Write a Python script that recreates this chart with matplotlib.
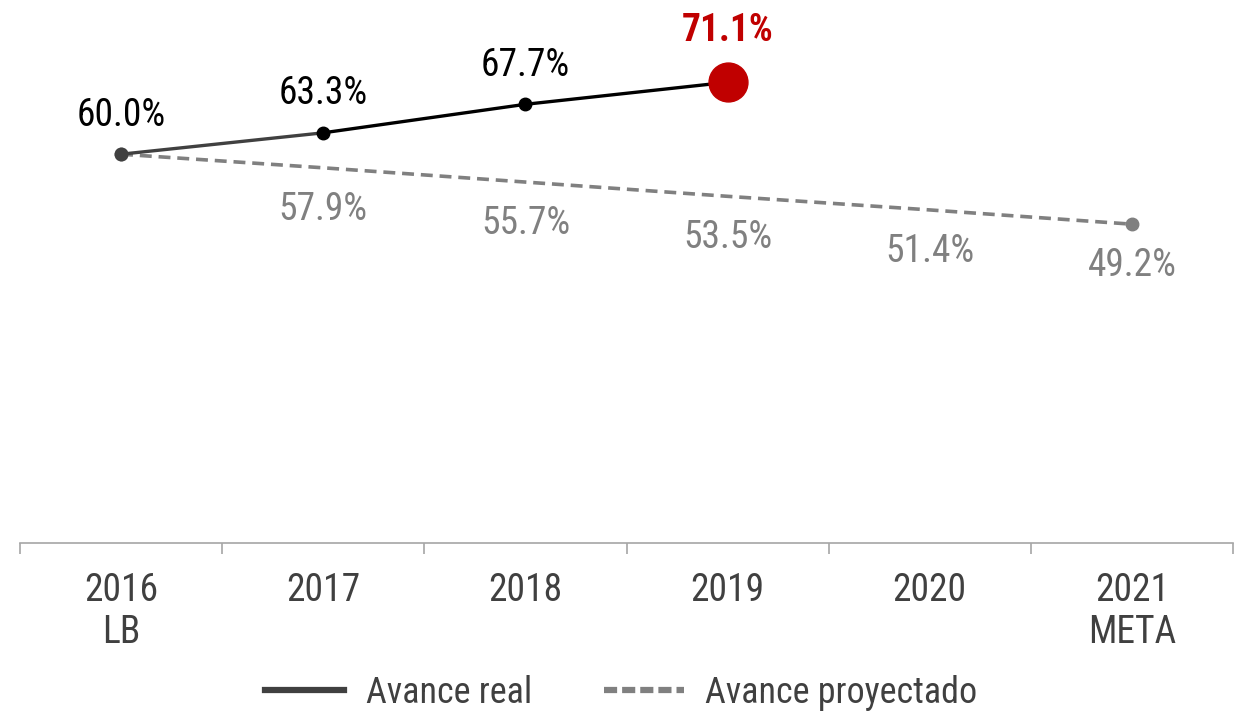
import matplotlib
matplotlib.use('Agg')
import matplotlib.pyplot as plt
from matplotlib.lines import Line2D

plt.rcParams['font.family'] = ['Roboto Condensed', 'DejaVu Sans']

years = ['2016\nLB', '2017', '2018', '2019', '2020', '2021\nMETA']
real = [60.0, 63.3, 67.7, 71.1]
proyectado = [60.0, 57.9, 55.7, 53.5, 51.4, 49.2]

x = list(range(len(years)))
xr = x[:len(real)]

fig = plt.figure(figsize=(12.42, 7.21), dpi=100)
ax = fig.add_axes([20/1242, 178/721, 1213/1242, 0.719])

# proyectado (dashed), markers only at the ends
ax.plot(x, proyectado, color='#808080', lw=2.6, dashes=(3.3, 1.9), zorder=2)
ax.plot([x[0], x[-1]], [proyectado[0], proyectado[-1]], 'o', color='#808080',
        ms=9, zorder=3, clip_on=False)

# avance real
ax.plot(xr[:2], real[:2], color='#404040', lw=2.4, zorder=4)
ax.plot(xr[1:], real[1:], color='black', lw=2.4, zorder=4)
ax.plot(xr[0], real[0], 'o', color='#404040', ms=9, zorder=5)
ax.plot(xr[1:-1], real[1:-1], 'o', color='black', ms=9, zorder=5)
ax.plot(xr[-1], real[-1], 'o', color='#C00000', ms=28, zorder=6, clip_on=False)

for i, v in enumerate(real):
    if i == len(real) - 1:
        ax.annotate(f'{v:.1f}%', (xr[i], v), xytext=(0, 37), textcoords='offset points',
                    ha='center', va='center', fontsize=27, color='#C00000', fontweight='bold')
    else:
        ax.annotate(f'{v:.1f}%', (xr[i], v), xytext=(0, 28), textcoords='offset points',
                    ha='center', va='center', fontsize=27, color='black')

for i, v in enumerate(proyectado):
    if i == 0:
        continue
    ax.annotate(f'{v:.1f}%', (x[i], v), xytext=(0, -30), textcoords='offset points',
                ha='center', va='center', fontsize=27, color='#808080')

ax.set_xlim(-0.5, len(years) - 0.5)
ax.set_ylim(0, 80)
ax.set_yticks([])
for s in ['top', 'left', 'right']:
    ax.spines[s].set_visible(False)
ax.spines['bottom'].set_color('#A6A6A6')
ax.spines['bottom'].set_linewidth(1.2)

ax.set_xticks(x)
ax.set_xticklabels(years, fontsize=27, color='#404040', linespacing=1.15)
ax.tick_params(axis='x', which='major', length=0, pad=21)
ax.set_xticks([i - 0.5 for i in range(len(years) + 1)], minor=True)
ax.tick_params(axis='x', which='minor', length=8, width=1.2, color='#A6A6A6')

handles = [Line2D([], [], color='#404040', lw=4.5),
           Line2D([], [], color='#808080', lw=4.5, dashes=(2.1, 0.8))]
fig.legend(handles, ['Avance real', 'Avance proyectado'], loc='center',
           bbox_to_anchor=(0.5, 1 - 693/721), ncol=2, frameon=False, fontsize=26,
           handlelength=2.2, handletextpad=0.6, columnspacing=2.0, labelcolor='#404040')

fig.savefig('out.png', dpi=100)
